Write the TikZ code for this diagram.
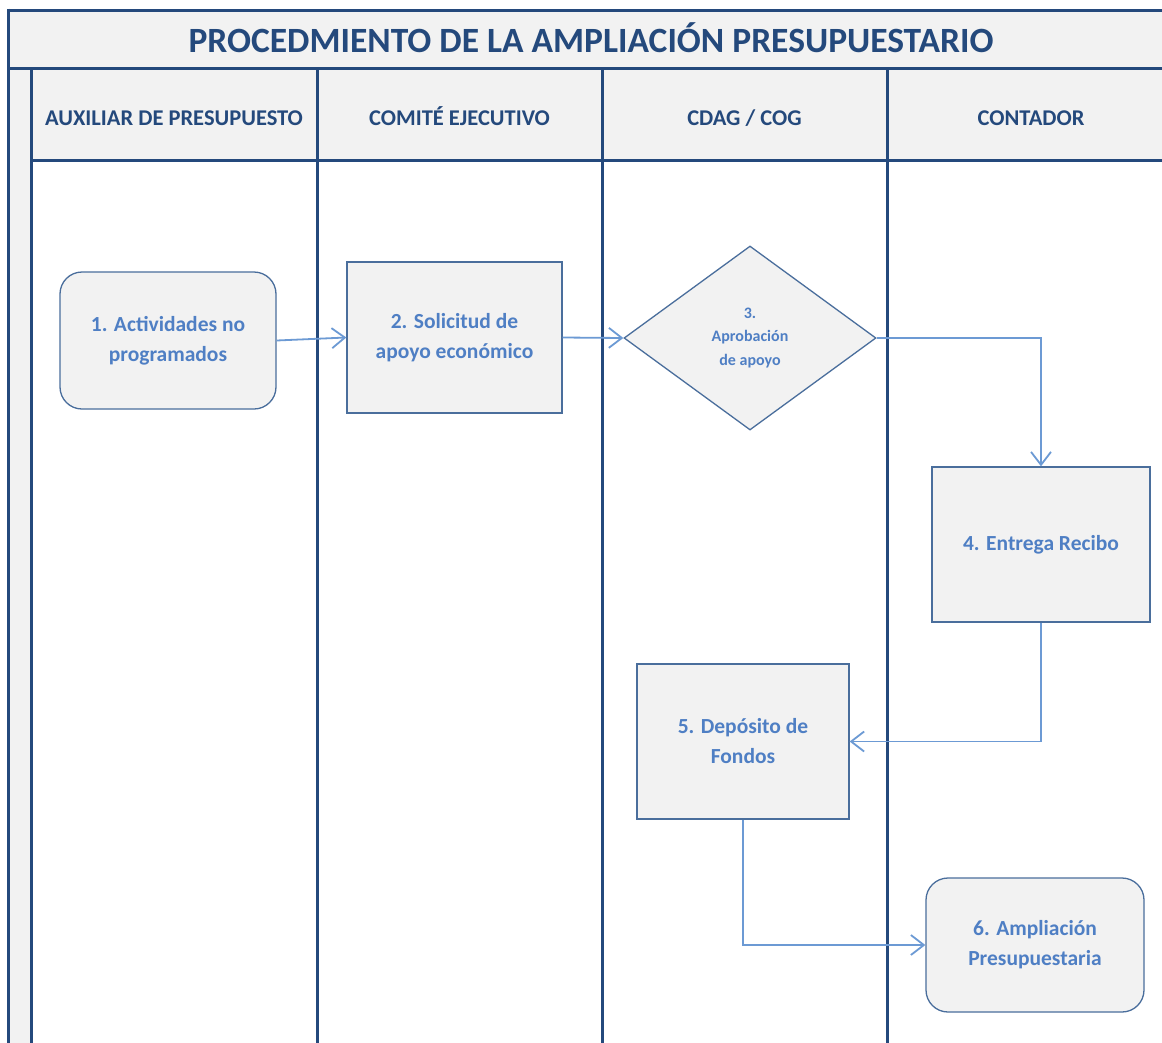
\documentclass[tikz,border=0pt]{standalone}
\usepackage{fontspec}
\setmainfont{Carlito}
\usetikzlibrary{shapes.geometric,arrows.meta}
\definecolor{lanecol}{HTML}{24497C}
\definecolor{headfill}{HTML}{F2F2F2}
\definecolor{nodeborder}{HTML}{4A6E9C}
\definecolor{nodetext}{HTML}{4F7FC4}
\definecolor{arrowcol}{HTML}{6C9AD4}
\tikzset{
  laneline/.style={draw=lanecol,line width=3pt},
  lanehead/.style={text=lanecol,anchor=base,font=\bfseries\fontsize{22.5}{26}\selectfont},
  proc/.style={draw=nodeborder,fill=headfill,line width=1.3pt,text=nodetext,align=center,
    font=\bfseries\fontsize{21.5}{30}\selectfont,inner sep=0pt},
  rproc/.style={proc,rounded corners=22pt},
  decision/.style={proc,diamond,font=\bfseries\fontsize{16}{23.5}\selectfont},
  flow/.style={draw=arrowcol,line width=1.8pt,-{Straight Barb[length=13pt,width=20pt,line width=1.8pt]}}
}
\begin{document}
\begin{tikzpicture}[x=1pt,y=-1pt]
\useasboundingbox (0,0) rectangle (1162,1042);
\clip (0,0) rectangle (1162,1042);
\fill[white] (0,0) rectangle (1162,1042);
% fills
\fill[headfill] (8,10) rectangle (1170,68);
\fill[headfill] (8,68) rectangle (31,1050);
\fill[headfill] (31,68) rectangle (1170,160);
% frame lines
\draw[laneline] (8,10) -- (1170,10);
\draw[laneline] (8,8.5) -- (8,1050);
\draw[laneline] (8,68) -- (1170,68);
\draw[laneline] (31,160) -- (1170,160);
\foreach \xx in {31,317,602,887} \draw[laneline] (\xx,68) -- (\xx,1050);
% title
\node[text=lanecol,anchor=base,font=\bfseries\fontsize{35.5}{40}\selectfont] (title) at (591,52) {PROCEDMIENTO DE LA AMPLIACIÓN PRESUPUESTARIO};
% lane headers
\node[lanehead] (h1) at (174,125) {AUXILIAR DE PRESUPUESTO};
\node[lanehead] (h2) at (459.5,125) {COMITÉ EJECUTIVO};
\node[lanehead] (h3) at (744.5,125) {CDAG / COG};
\node[lanehead] (h4) at (1031,125) {CONTADOR};
% nodes
\node[rproc,minimum width=216pt,minimum height=137pt] (n1) at (168,340.5) {1. Actividades no\\programados};
\node[proc,minimum width=215pt,minimum height=151pt] (n2) at (454.5,337.5) {2. Solicitud de\\apoyo económico};
\node[decision,minimum width=252pt,minimum height=184pt] (n3) at (750,338) {3.\\Aprobación\\de apoyo};
\node[proc,minimum width=218pt,minimum height=155pt] (n4) at (1041,544.5) {4. Entrega Recibo};
\node[proc,minimum width=212pt,minimum height=155pt] (n5) at (743,741.5) {5. Depósito de\\Fondos};
\node[rproc,minimum width=218pt,minimum height=134pt] (n6) at (1035,945) {6. Ampliación\\Presupuestaria};
% connectors
\draw[flow] (n1.east) -- (n2.west);
\draw[flow] (n2.east) -- (n3.west);
\draw[flow] (n3.east) -| (n4.north);
\draw[flow] (n4.south) |- (n5.east);
\draw[flow] (n5.south) |- (n6.west);
\end{tikzpicture}
\end{document}
